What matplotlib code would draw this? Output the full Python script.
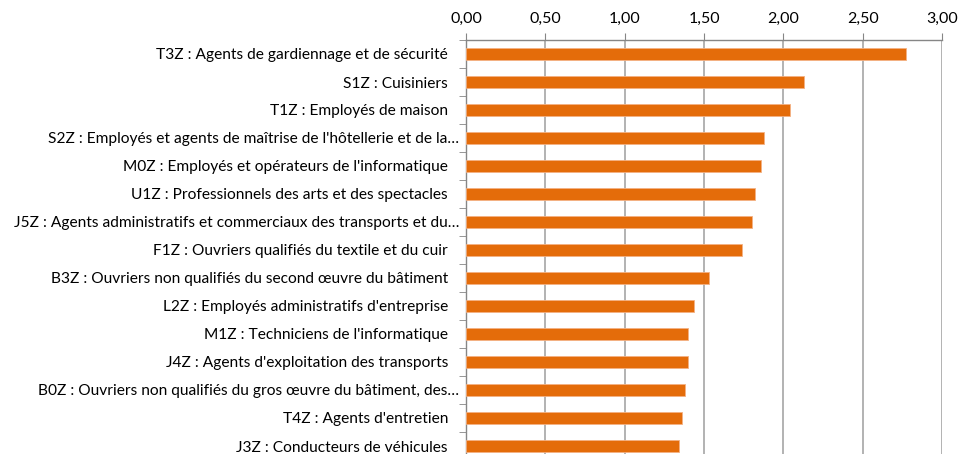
import matplotlib.pyplot as plt
import matplotlib.transforms as mtransforms
import numpy as np
from matplotlib.ticker import FuncFormatter

categories = [
    "T3Z : Agents de gardiennage et de sécurité",
    "S1Z : Cuisiniers",
    "T1Z : Employés de maison",
    "S2Z : Employés et agents de maîtrise de l'hôtellerie et de la…",
    "M0Z : Employés et opérateurs de l'informatique",
    "U1Z : Professionnels des arts et des spectacles",
    "J5Z : Agents administratifs et commerciaux des transports et du…",
    "F1Z : Ouvriers qualifiés du textile et du cuir",
    "B3Z : Ouvriers non qualifiés du second œuvre du bâtiment",
    "L2Z : Employés administratifs d'entreprise",
    "M1Z : Techniciens de l'informatique",
    "J4Z : Agents d'exploitation des transports",
    "B0Z : Ouvriers non qualifiés du gros œuvre du bâtiment, des…",
    "T4Z : Agents d'entretien",
    "J3Z : Conducteurs de véhicules",
]
values = [2.77, 2.13, 2.04, 1.88, 1.86, 1.82, 1.80, 1.74, 1.53, 1.44, 1.40, 1.40, 1.38, 1.36, 1.34]
xticks = [0, 0.5, 1.0, 1.5, 2.0, 2.5, 3.0]

plt.rcParams["font.family"] = ["Lato", "DejaVu Sans"]

fig = plt.figure(figsize=(9.6, 4.54), dpi=100)
# axes bottom runs slightly below the image, as in the reference
ax = fig.add_axes([466 / 960, -6 / 454, 476 / 960, 420 / 454])

y = np.arange(len(categories))
ax.barh(y, values, height=0.4, color="#E46C0A", edgecolor="#F4B183", linewidth=0.6, zorder=3)

ax.set_xlim(0, 3.0)
ax.set_ylim(len(categories) - 0.5, -0.5)
ax.set_xticks(xticks)
ax.xaxis.set_major_formatter(FuncFormatter(lambda v, p: f"{v:.2f}".replace(".", ",")))
ax.xaxis.tick_top()
ax.tick_params(axis="x", length=5, color="#868686", labelsize=11.5, pad=5, labelcolor="#000000")
ax.grid(axis="x", color="#A6A6A6", linewidth=1.2, zorder=0)

ax.set_yticks(y)
ax.set_yticklabels(categories)
ax.set_yticks(np.arange(len(categories) + 1) - 0.5, minor=True)
ax.tick_params(axis="y", which="major", length=0, labelsize=11.2, pad=13)
ax.tick_params(axis="y", which="minor", length=5, color="#868686")

# truncated labels sit a little further right
shift = mtransforms.ScaledTranslation(11 / 100, 0, fig.dpi_scale_trans)
for lab in ax.get_yticklabels():
    if lab.get_text().endswith("…"):
        lab.set_transform(lab.get_transform() + shift)

for s in ["right", "bottom"]:
    ax.spines[s].set_visible(False)
for s in ["top", "left"]:
    ax.spines[s].set_color("#868686")
    ax.spines[s].set_linewidth(1.0)

fig.savefig("out.png", dpi=100)
